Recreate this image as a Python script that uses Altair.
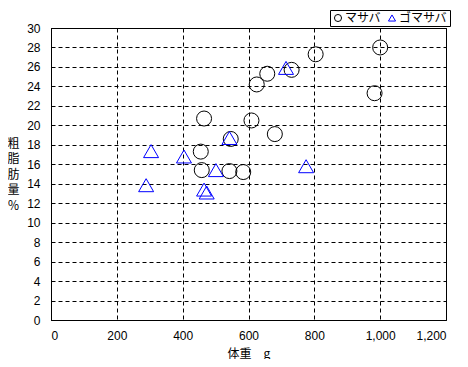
import altair as alt
import pandas as pd

# マサバ (circles)
masaba_x = [1000, 804, 731, 657, 625, 983, 465, 609, 680, 546, 455, 458, 542, 584]
masaba_y = [28.0, 27.3, 25.7, 25.3, 24.2, 23.3, 20.7, 20.5, 19.1, 18.6, 17.3, 15.4, 15.3, 15.2]
# ゴマサバ (triangles)
goma_x = [304, 289, 404, 501, 542, 714, 775, 465, 473]
goma_y = [17.35, 13.85, 16.8, 15.4, 18.7, 25.9, 15.8, 13.4, 13.1]

species = ["マサバ", "ゴマサバ"]
shapes = ["circle", "triangle-up"]
colors = ["#000000", "#0000FF"]
x_ticks = [0, 200, 400, 600, 800, 1000, 1200]
y_ticks = list(range(0, 31, 2))

df = pd.DataFrame({
    "w": masaba_x + goma_x,
    "fat": masaba_y + goma_y,
    "sp": [species[0]] * len(masaba_x) + [species[1]] * len(goma_x),
})

FONT = "Noto Sans CJK JP"
NUMFONT = "Liberation Sans"

leg = alt.Legend(title=None, orient="none", legendX=279, legendY=-18,
                 direction="horizontal", strokeColor="#000000",
                 padding=2, symbolSize=50, labelFontSize=12,
                 labelFont=FONT, columnPadding=4, labelOffset=1,
                 symbolStrokeWidth=1, fillColor="#FFFFFF")

chart = alt.Chart(df).mark_point(filled=False, size=225, strokeWidth=1, opacity=1).encode(
    x=alt.X("w:Q", scale=alt.Scale(domain=[0, 1200], nice=False),
            axis=alt.Axis(values=x_ticks, format=",.0f", title="体重　g",
                          titleBaseline="alphabetic", titleY=37, labelPadding=10)),
    y=alt.Y("fat:Q", scale=alt.Scale(domain=[0, 30], nice=False),
            axis=alt.Axis(values=y_ticks, format="d", title=["粗", "脂", "肪", "量", "％"],
                          titleAngle=0, titleX=-38, titleY=110, titleLineHeight=15.5,
                          titleBaseline="top", titleAlign="center")),
    shape=alt.Shape("sp:N", scale=alt.Scale(domain=species, range=shapes), legend=leg),
    color=alt.Color("sp:N", scale=alt.Scale(domain=species, range=colors), legend=leg),
).properties(
    width=395, height=292,
    background="#FFFFFF",
    autosize=alt.AutoSizeParams(type="none"),
    padding={"left": 43, "top": 20, "right": 14, "bottom": 39},
).configure_view(
    stroke="#000000", strokeWidth=1
).configure_axis(
    grid=True, gridColor="#000000", gridDash=[4, 3], gridWidth=1, gridOpacity=1,
    domainColor="#000000", domainWidth=1, ticks=False, tickSize=0,
    labelFont=NUMFONT, labelFontSize=12, labelColor="#000000", labelPadding=11,
    titleFont=FONT, titleFontSize=12, titleColor="#000000", titleFontWeight="normal",
)

chart.save("out.html", embed_options={"renderer": "svg", "actions": False})
